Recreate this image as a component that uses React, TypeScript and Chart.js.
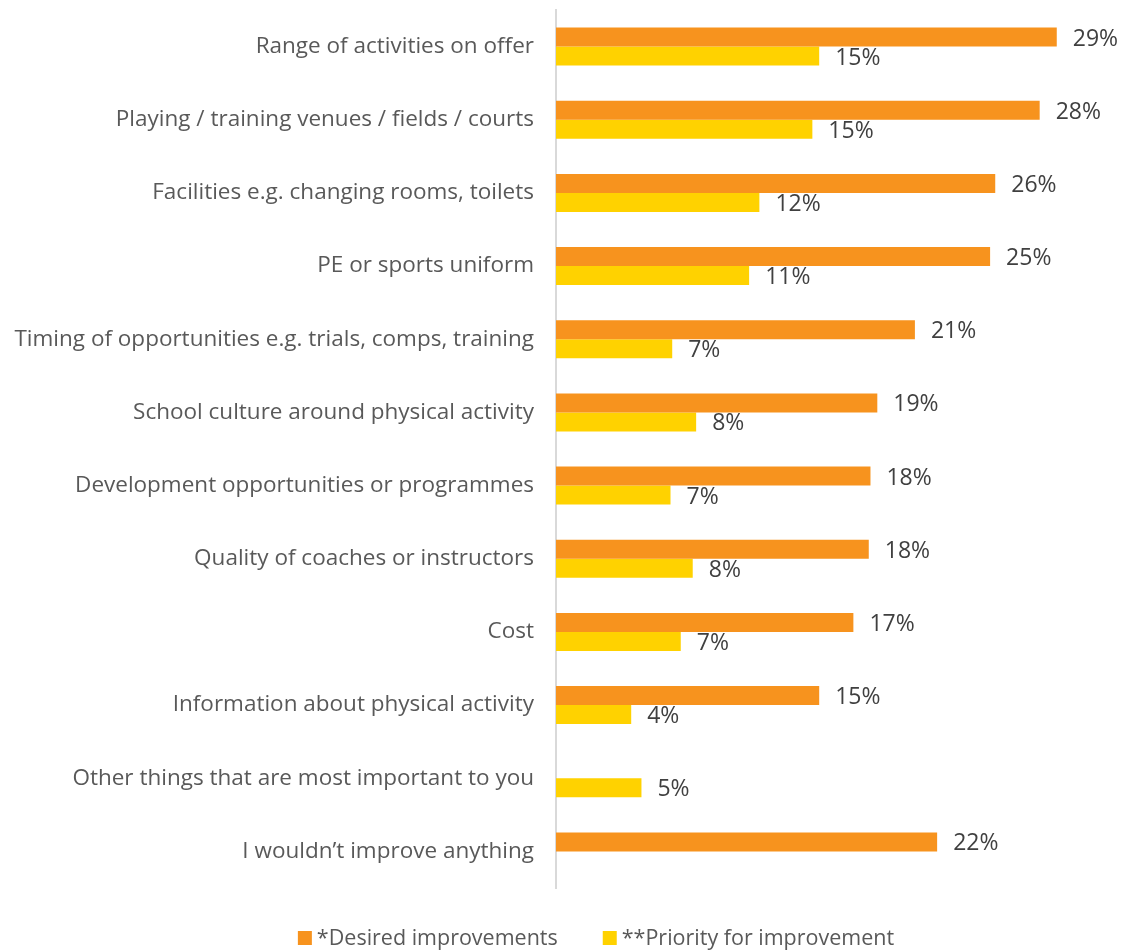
import React, { useEffect, useRef } from "react";
import { Chart, registerables } from "chart.js";

Chart.register(...registerables);

const categories: string[] = [
  "Range of activities on offer",
  "Playing / training venues / fields / courts",
  "Facilities e.g. changing rooms, toilets",
  "PE or sports uniform",
  "Timing of opportunities e.g. trials, comps, training",
  "School culture around physical activity",
  "Development opportunities or programmes",
  "Quality of coaches or instructors",
  "Cost",
  "Information about physical activity",
  "Other things that are most important to you",
  "I wouldn\u2019t improve anything",
];

const desiredValues: (number | null)[] = [29.3, 28.3, 25.7, 25.4, 21.0, 18.8, 18.4, 18.3, 17.4, 15.4, null, 22.3];
const priorityValues: (number | null)[] = [15.4, 15.0, 11.9, 11.3, 6.8, 8.2, 6.7, 8.0, 7.3, 4.4, 5.0, null];

const desiredLabels: string[] = ["29%", "28%", "26%", "25%", "21%", "19%", "18%", "18%", "17%", "15%", "", "22%"];
const priorityLabels: string[] = ["15%", "15%", "12%", "11%", "7%", "8%", "7%", "8%", "7%", "4%", "5%", ""];

const seriesNames: string[] = ["*Desired improvements", "**Priority for improvement"];
const seriesColors: string[] = ["#F7931E", "#FFD200"];

const FONT = "'Open Sans', Roboto, sans-serif";
const TICK_SIZE = 22.5;
const VALUE_SIZE = 23;
const LEGEND_SIZE = 21.5;

const valueLabelPlugin = {
  id: "valueLabels",
  afterDatasetsDraw(chart: any) {
    const ctx = chart.ctx;
    const labelSets = [desiredLabels, priorityLabels];
    ctx.save();
    ctx.font = `${VALUE_SIZE}px ${FONT}`;
    ctx.fillStyle = "#404040";
    ctx.textAlign = "left";
    ctx.textBaseline = "middle";
    chart.data.datasets.forEach((ds: any, di: number) => {
      const meta = chart.getDatasetMeta(di);
      meta.data.forEach((bar: any, i: number) => {
        const v = ds.data[i];
        if (v === null || v === undefined) return;
        ctx.fillText(labelSets[di][i], bar.x + 16, bar.y + 2);
      });
    });
    ctx.restore();
  },
};

const legendPlugin = {
  id: "customLegend",
  afterDraw(chart: any) {
    const ctx = chart.ctx;
    ctx.save();
    ctx.font = `${LEGEND_SIZE}px ${FONT}`;
    ctx.textBaseline = "middle";
    ctx.textAlign = "left";
    const box = 14;
    const gapBoxText = 5;
    const gapItems = 45;
    const widths = seriesNames.map((n) => ctx.measureText(n).width);
    const total =
      widths.reduce((a: number, w: number) => a + box + gapBoxText + w, 0) + gapItems * (seriesNames.length - 1);
    const centerX = 596;
    const y = 938;
    let x = centerX - total / 2;
    seriesNames.forEach((name, i) => {
      ctx.fillStyle = seriesColors[i];
      ctx.fillRect(x, y - box / 2, box, box);
      x += box + gapBoxText;
      ctx.fillStyle = "#595959";
      ctx.fillText(name, x, y + 1);
      x += widths[i] + gapItems;
    });
    ctx.restore();
  },
};

export default function App() {
  const canvasRef = useRef<HTMLCanvasElement | null>(null);

  useEffect(() => {
    if (!canvasRef.current) return;
    const chart = new Chart(canvasRef.current, {
      type: "bar",
      data: {
        labels: categories,
        datasets: [
          {
            label: seriesNames[0],
            data: desiredValues as any,
            backgroundColor: seriesColors[0],
            categoryPercentage: 0.52,
            barPercentage: 1.0,
          },
          {
            label: seriesNames[1],
            data: priorityValues as any,
            backgroundColor: seriesColors[1],
            categoryPercentage: 0.52,
            barPercentage: 1.0,
          },
        ],
      },
      options: {
        indexAxis: "y",
        animation: false,
        responsive: false,
        maintainAspectRatio: false,
        layout: { padding: { top: 10, bottom: 64, left: 0, right: 7 } },
        plugins: {
          legend: { display: false },
          tooltip: { enabled: false },
        },
        scales: {
          x: {
            display: false,
            min: 0,
            max: 33,
          },
          y: {
            grid: { display: false, drawTicks: false },
            border: { display: true, color: "#D9D9D9", width: 2 },
            ticks: {
              padding: 22,
              color: "#595959",
              font: { family: FONT, size: TICK_SIZE },
            },
            afterFit: (scale: any) => {
              scale.width = 556;
              scale.paddingTop = 0;
              scale.paddingBottom = 0;
            },
          },
        },
      },
      plugins: [valueLabelPlugin, legendPlugin],
    });
    return () => chart.destroy();
  }, []);

  return (
    <div style={{ position: "absolute", left: 0, top: 0, width: 1127, height: 952, background: "#fff" }}>
      <canvas ref={canvasRef} width={1127} height={952} style={{ display: "block" }} />
    </div>
  );
}
